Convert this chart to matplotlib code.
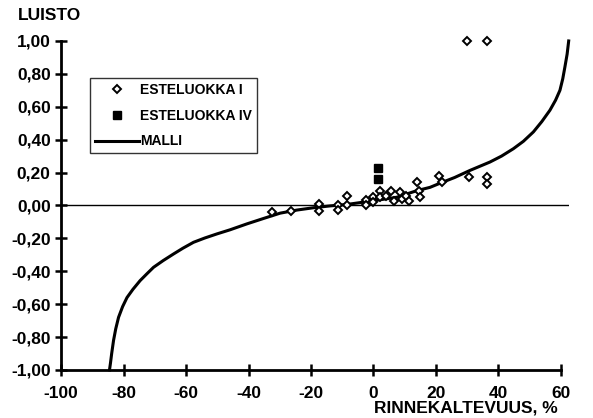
# -*- coding: utf-8 -*-
import matplotlib
matplotlib.use('Agg')
import matplotlib.pyplot as plt

plt.rcParams['font.family'] = ['Liberation Sans', 'DejaVu Sans']
plt.rcParams['font.weight'] = 'bold'

# ESTELUOKKA I (avoimet vinoneliot)
est1_x = [-32.5, -26.5, -17.5, -17.5, -11.5, -11.5, -8.5, -8.5, -2.5, -2.5,
          0.0, 0.0, 2.0, 2.0, 4.0, 5.5, 6.5, 8.5, 9.0, 10.5, 11.5,
          14.0, 14.5, 15.0, 21.0, 22.0, 30.5, 36.5, 36.5, 30.0, 36.5]
est1_y = [-0.04, -0.035, 0.01, -0.035, 0.005, -0.025, 0.055, 0.005, 0.035, 0.0,
          0.05, 0.02, 0.09, 0.05, 0.06, 0.09, 0.03, 0.08, 0.04, 0.06, 0.03,
          0.14, 0.09, 0.05, 0.18, 0.145, 0.175, 0.17, 0.13, 1.0, 1.0]

# ESTELUOKKA IV (mustat neliot)
est4_x = [1.5, 1.5]
est4_y = [0.23, 0.16]

# MALLI - luettu kuvasta
malli_x = [-84.5, -84.2, -83.8, -83.2, -82.5, -81.6, -80.3, -78.9, -77.0, -74.7,
           -72.5, -70.4, -67.3, -64.0, -61.0, -57.6, -54.0, -50.1, -45.9, -40.5,
           -35.0, -29.9, -24.5, -19.2, -14.0, -8.5, -4.0, -1.1, 3.0, 7.5,
           13.9, 18.1, 21.3, 26.0, 30.9, 37.3, 41.0, 44.8, 48.0, 51.2,
           53.9, 56.5, 58.3, 59.7, 60.6, 61.3, 62.0, 62.5]
malli_y = [-1.0, -0.96, -0.9, -0.82, -0.75, -0.68, -0.615, -0.56, -0.51, -0.457,
           -0.415, -0.376, -0.335, -0.295, -0.26, -0.224, -0.198, -0.173, -0.148, -0.112,
           -0.078, -0.047, -0.028, -0.014, -0.003, 0.006, 0.018, 0.026, 0.037, 0.05,
           0.09, 0.11, 0.135, 0.17, 0.213, 0.264, 0.30, 0.345, 0.39, 0.447,
           0.51, 0.579, 0.64, 0.70, 0.77, 0.843, 0.92, 1.0]

xticks = [-100, -80, -60, -40, -20, 0, 20, 40, 60]
yticks = [-1.0, -0.8, -0.6, -0.4, -0.2, 0.0, 0.2, 0.4, 0.6, 0.8, 1.0]

fig = plt.figure(figsize=(5.93, 4.18), dpi=100)
ax = fig.add_axes([0.103, 0.115, 0.856, 0.787])

ax.axhline(0, color='black', lw=1.0, zorder=1)
ax.plot(est1_x, est1_y, 'D', ms=4.3, mfc='white', mec='black', mew=1.4,
        label='ESTELUOKKA I', clip_on=False, zorder=3)
ax.plot(est4_x, est4_y, 's', ms=6, color='black', label='ESTELUOKKA IV',
        clip_on=False, zorder=4)
ax.plot(malli_x, malli_y, '-', color='black', lw=2.2, label='MALLI',
        clip_on=False, zorder=2, solid_joinstyle='round')

ax.set_xlim(-100, 62.5)
ax.set_ylim(-1.0, 1.0)
ax.set_xticks(xticks)
ax.set_xticklabels([str(v) for v in xticks])
ax.set_yticks(yticks)
ax.set_yticklabels([('%.2f' % v).replace('.', ',') for v in yticks])

for s in ['top', 'right']:
    ax.spines[s].set_visible(False)
for s in ['left', 'bottom']:
    ax.spines[s].set_linewidth(2.0)
ax.spines['bottom'].set_bounds(-100, 60)

ax.tick_params(axis='both', direction='inout', length=9, width=1.8,
               labelsize=12.5)
ax.tick_params(axis='x', pad=7)
ax.tick_params(axis='y', pad=3)
for t in ax.get_xticklabels() + ax.get_yticklabels():
    t.set_fontweight('bold')

fig.text(0.084, 0.963, 'LUISTO', ha='center', va='center',
         fontsize=12.5, fontweight='bold')
fig.text(0.94, 0.012, 'RINNEKALTEVUUS, %', ha='right', va='baseline',
         fontsize=12.5, fontweight='bold')

leg = ax.legend(loc='upper left', bbox_to_anchor=(0.057, 0.8875),
                borderaxespad=0, fancybox=False, frameon=True,
                prop={'size': 10, 'weight': 'bold'}, handlelength=3.2,
                handletextpad=0.05, labelspacing=0.85, borderpad=0.35)
leg.get_frame().set_edgecolor('black')
leg.get_frame().set_linewidth(1.0)

fig.savefig('out.png', dpi=100)
